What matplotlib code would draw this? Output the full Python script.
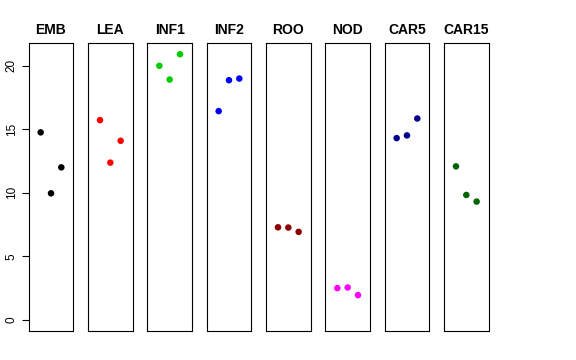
import matplotlib
matplotlib.use("Agg")
import matplotlib.pyplot as plt

plt.rcParams["font.family"] = ["Liberation Sans", "DejaVu Sans"]

tissues = ["EMB", "LEA", "INF1", "INF2", "ROO", "NOD", "CAR5", "CAR15"]
colors = ["black", "red", "#00CD00", "blue", "#8B0000", "magenta", "#00008B", "#006400"]
reps = [1, 2, 3]
emb = [14.75, 9.96, 12.0]
lea = [15.71, 12.37, 14.09]
inf1 = [19.98, 18.90, 20.89]
inf2 = [16.42, 18.85, 18.98]
roo = [7.29, 7.27, 6.93]
nod = [2.51, 2.56, 1.96]
car5 = [14.30, 14.51, 15.84]
car15 = [12.08, 9.83, 9.31]
values = [emb, lea, inf1, inf2, roo, nod, car5, car15]
yticks = [0, 5, 10, 15, 20]

fig = plt.figure(figsize=(5.76, 3.6), dpi=100)
W, H = 576.0, 360.0
left0, step, width = 28.7, 59.33, 44.6
top, bottom = 43.3, 331.0

for i, (name, clr, vals) in enumerate(zip(tissues, colors, values)):
    ax = fig.add_axes([(left0 + i * step) / W, (H - bottom) / H, width / W, (bottom - top) / H])
    ax.scatter(reps, vals, s=22, color=clr, edgecolors="none", zorder=3)
    ax.set_xlim(-0.16, 4.16)
    ax.set_ylim(-0.86, 21.75)
    ax.set_xticks([])
    for sp in ax.spines.values():
        sp.set_linewidth(0.8)
        sp.set_color("black")
    ax.set_title(name, fontsize=10, fontweight="bold", pad=6.5)
    if i == 0:
        ax.set_yticks(yticks)
        ax.set_yticklabels([str(v) for v in yticks], rotation=90, va="center", fontsize=8.5)
        ax.tick_params(axis="y", length=5, width=0.8, pad=3)
    else:
        ax.set_yticks([])

fig.savefig("out.png", dpi=100)
